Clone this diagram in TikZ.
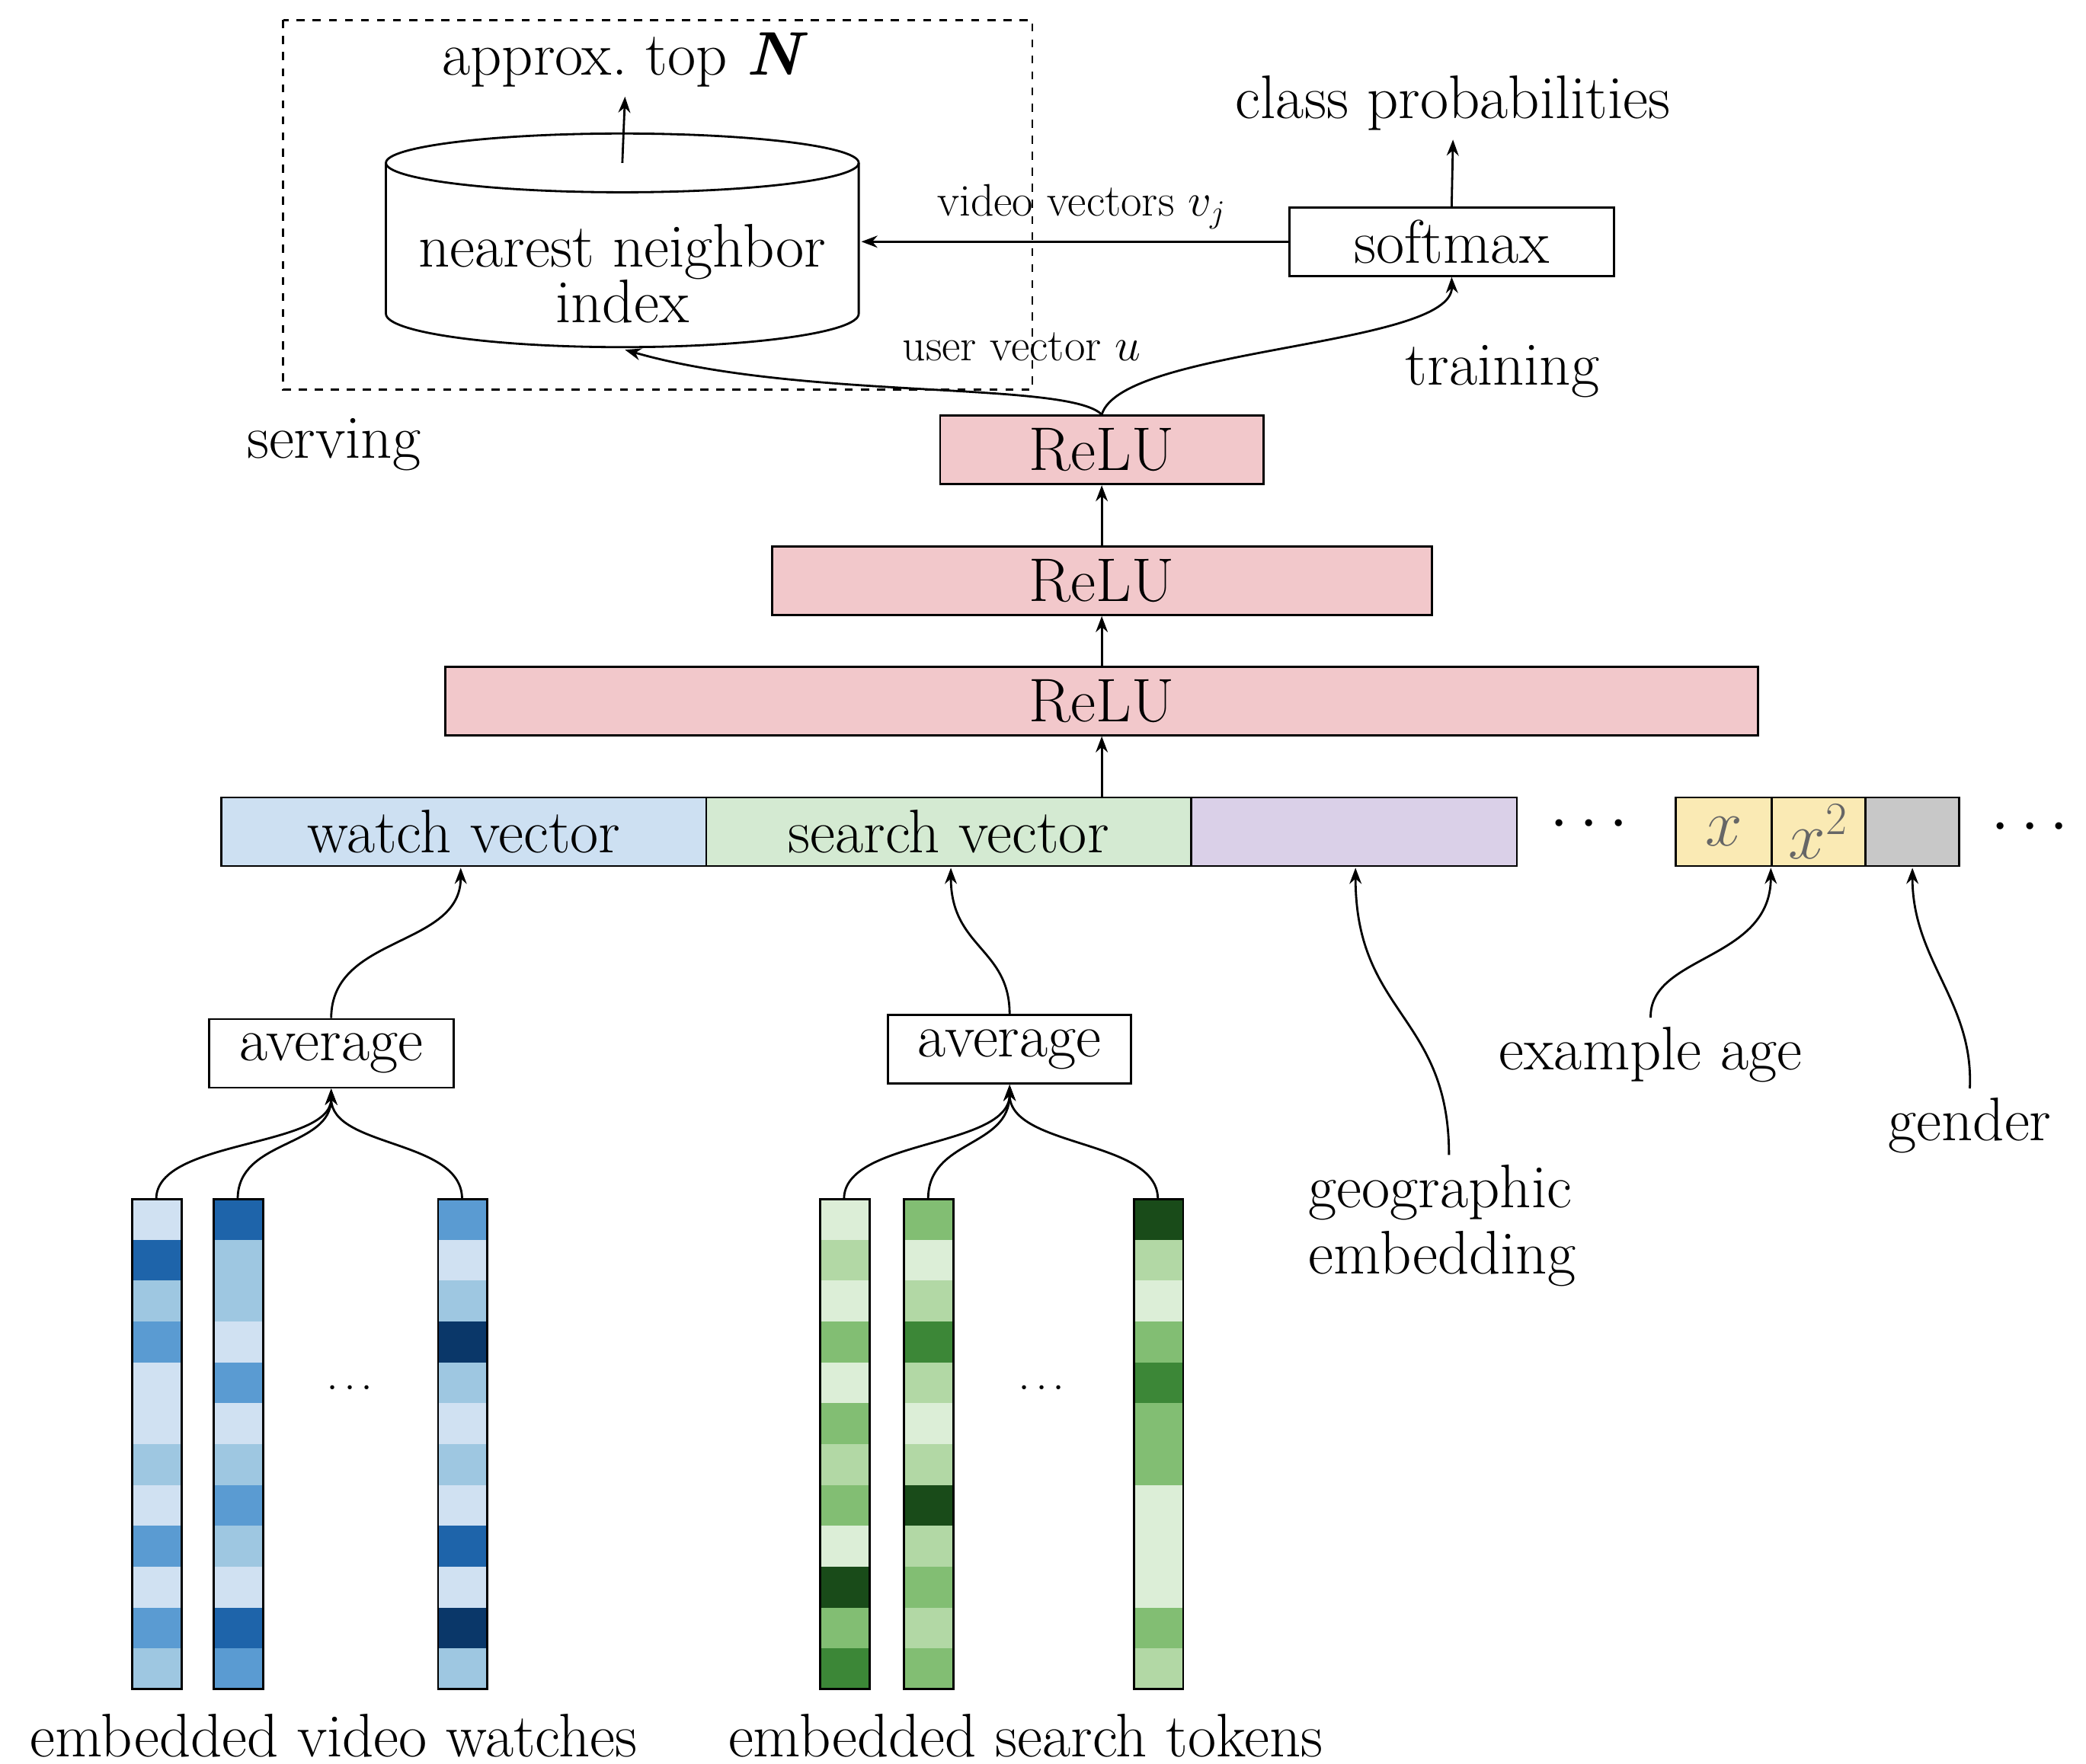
\documentclass[tikz,border=0pt]{standalone}
\usetikzlibrary{shapes.geometric,arrows.meta,calc}
\definecolor{relu}{RGB}{242,200,203}
\definecolor{watchc}{RGB}{205,224,242}
\definecolor{searchc}{RGB}{212,234,210}
\definecolor{geoc}{RGB}{218,208,232}
\definecolor{agec}{RGB}{250,234,180}
\definecolor{genc}{RGB}{200,200,200}
\definecolor{b1}{RGB}{208,225,242}\definecolor{b2}{RGB}{158,199,225}\definecolor{b3}{RGB}{90,155,210}\definecolor{b4}{RGB}{30,100,170}\definecolor{b5}{RGB}{10,55,105}
\definecolor{g1}{RGB}{220,238,215}\definecolor{g2}{RGB}{178,216,165}\definecolor{g3}{RGB}{130,190,115}\definecolor{g4}{RGB}{60,135,55}\definecolor{g5}{RGB}{25,75,25}
\begin{document}
\begin{tikzpicture}[x=0.01753cm,y=-0.01753cm,
  every node/.style={font=\fontsize{23}{25}\selectfont},
  box/.style={draw,thick,minimum height=0.9cm,inner sep=0pt},
  arr/.style={-{Stealth[length=6pt]},thick},
  lab/.style={font=\fontsize{17}{19}\selectfont},
  cell/.style={draw,thin}]
\useasboundingbox (0,0) rectangle (1562,1321);
\draw[dashed,thick] (212,15) rectangle (773,292);
\node (topn) at (468,45) {approx.\ top \textbf{\textit{N}}};
% cylinder drawn directly
\draw[thick] (466,122) ellipse [x radius=177, y radius=-22];
\draw[thick] (289,122) -- (289,235) arc[start angle=180,end angle=360,x radius=177,y radius=-25] -- (643,122);
\node[align=center] (nn) at (466,205) {nearest neighbor\\[-4pt]index};
\draw[arr] (466,122) -- (topn.south);
\node[box,minimum width=243*0.01753cm] (soft) at (1087,181) {softmax};
\node (cp) at (1088,77) {class probabilities};
\draw[arr] (soft.north) -- (cp.south);
\draw[arr] (soft.west) -- (645,181);
\node[lab] at (810,155) {video vectors $v_j$};
\node[lab] at (765,260) {user vector $u$};
\node[box,fill=relu,minimum width=242*0.01753cm] (r1) at (825,337) {ReLU};
\node[box,fill=relu,minimum width=494*0.01753cm] (r2) at (825,435) {ReLU};
\node[box,fill=relu,minimum width=983*0.01753cm] (r3) at (825,525) {ReLU};
\draw[arr] (r2.north) -- (r1.south);
\draw[arr] (r3.north) -- (r2.south);
\draw[arr] (r1.north) .. controls (800,285) and (600,300) .. (468,262);
\draw[arr] (r1.north) .. controls (840,260) and (1088,260) .. (soft.south);
\node at (1125,278) {training};
\node at (250,333) {serving};
% feature row
\node[box,fill=watchc,minimum width=363*0.01753cm,anchor=west] (wv) at (165,623) {watch vector};
\node[box,fill=searchc,minimum width=363*0.01753cm,anchor=west] (sv) at (528,623) {search vector};
\node[box,fill=geoc,minimum width=244*0.01753cm,anchor=west] (gv) at (891,623) {};
\node[box,fill=agec,minimum width=72*0.01753cm,anchor=west] (xv) at (1254,623) {\color{black!60}$x$};
\node[box,fill=agec,minimum width=70*0.01753cm,anchor=west] (x2) at (1326,623) {\color{black!60}$x^2$};
\node[box,fill=genc,minimum width=70*0.01753cm,anchor=west] (gn) at (1396,623) {};
\node at (1190,618) {$\cdots$};
\node at (1520,620) {$\cdots$};
\draw[arr] (825,598) -- (r3.south);
\node[box,minimum width=183*0.01753cm] (av1) at (248,789) {average};
\node[box,minimum width=182*0.01753cm] (av2) at (756,786) {average};
\draw[arr] (av1.north) .. controls (248,700) and (345,710) .. (345,650);
\draw[arr] (av2.north) .. controls (756,710) and (712,710) .. (712,650);
\node[align=left] (geo) at (1080,918) {geographic\\embedding};
\draw[arr] (1085,865) .. controls (1085,760) and (1015,760) .. (1015,650);
\node (age) at (1236,790) {example age};
\draw[arr] (age.north) .. controls (1235,715) and (1326,720) .. (1326,650);
\node (gen) at (1475,843) {gender};
\draw[arr] (gen.north) .. controls (1478,750) and (1432,720) .. (1432,650);
% embedding columns
\foreach \x/\cols in {99/{b1,b4,b2,b3,b1,b1,b2,b1,b3,b1,b3,b2},
                     160/{b4,b2,b2,b1,b3,b1,b2,b3,b2,b1,b4,b3},
                     328/{b3,b1,b2,b5,b2,b1,b2,b1,b4,b1,b5,b2},
                     614/{g1,g2,g1,g3,g1,g3,g2,g3,g1,g5,g3,g4},
                     677/{g3,g1,g2,g4,g2,g1,g2,g5,g2,g3,g2,g3},
                     849/{g5,g2,g1,g3,g4,g3,g3,g1,g1,g1,g3,g2}}{
  \foreach \c [count=\i from 0] in \cols {
    \fill[\c] (\x,898+\i*30.6) rectangle ++(37,30.6);
  }
  \draw[thick] (\x,898) rectangle ++(37,367);
}
\coordinate (c1) at (117,898);\coordinate (c2) at (178,898);\coordinate (c3) at (346,898);
\coordinate (c4) at (632,898);\coordinate (c5) at (695,898);\coordinate (c6) at (867,898);
\foreach \c in {c1,c2,c3} \draw[arr] (\c) .. controls ($(\c)+(0,-45)$) and (248,860) .. (av1.south);
\foreach \c in {c4,c5,c6} \draw[arr] (\c) .. controls ($(\c)+(0,-45)$) and (756,860) .. (av2.south);
\node at (262,1040) {\Large$\cdots$};
\node at (780,1040) {\Large$\cdots$};
\node at (250,1300) {embedded video watches};
\node at (768,1300) {embedded search tokens};
\end{tikzpicture}
\end{document}
